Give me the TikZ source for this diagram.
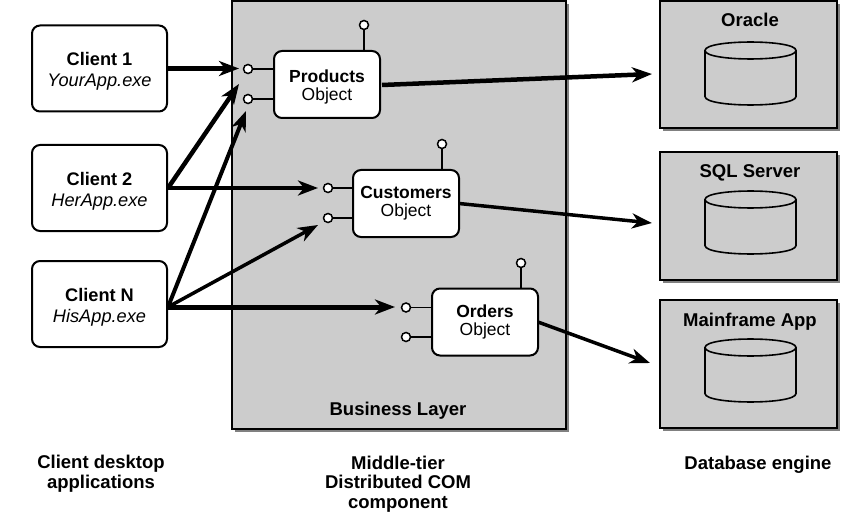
\documentclass[tikz,border=0pt]{standalone}
\usepackage{fontspec}
\setmainfont{Liberation Sans}
\usetikzlibrary{arrows.meta}
\tikzset{
  x=1pt,y=-1pt,
  lbl/.style={font=\fontsize{18.5}{19.5}\selectfont\bfseries,inner sep=0pt,outer sep=0pt,anchor=base,align=center},
  clientbox/.style={draw=black,line width=2pt,fill=white,rounded corners=8pt,minimum width=135pt,minimum height=86pt,align=center,inner sep=0pt,outer sep=0pt,font=\fontsize{18.2}{21}\selectfont},
  objbox/.style={draw=black,line width=2pt,fill=white,rounded corners=8pt,minimum width=106pt,minimum height=67pt,align=center,inner sep=0pt,outer sep=0pt,font=\fontsize{17.5}{17.7}\selectfont},
  panel/.style={draw=black,line width=2pt,fill=panelgray},
  shadowbox/.style={fill=shadowgray,draw=none},
  portdot/.style={circle,draw=black,line width=1.5pt,fill=white,minimum size=9pt,inner sep=0pt,outer sep=0pt},
  wire/.style={draw=black,line width=1.6pt},
  arrow/.style={draw=black,-{Stealth[length=20pt,width=15pt,inset=6pt]}},
  cyl/.style={draw=black,line width=1.6pt,fill=panelgray},
}
\definecolor{panelgray}{HTML}{CCCCCC}
\definecolor{shadowgray}{HTML}{808080}
\newcommand{\dbcyl}[2]{%
  \path[cyl] (705,#1) -- (705,#2) .. controls (705,#2+11.3) and (796,#2+11.3) .. (796,#2) -- (796,#1) .. controls (796,#1-11.3) and (705,#1-11.3) .. (705,#1) -- cycle;
  \draw[cyl,fill=none] (705,#1) .. controls (705,#1+11.3) and (796,#1+11.3) .. (796,#1);
}
\begin{document}
\begin{tikzpicture}
\useasboundingbox (0,0) rectangle (860,532);
\fill[white] (0,0) rectangle (860,532);
% panels
\fill[shadowbox] (235,4) rectangle (569,432);
\draw[panel] (232,1) rectangle (566,429);
\fill[shadowbox] (663,4) rectangle (840,131);
\draw[panel] (660,1) rectangle (837,128);
\fill[shadowbox] (663,155) rectangle (840,283);
\draw[panel] (660,152) rectangle (837,280);
\fill[shadowbox] (663,303) rectangle (840,431);
\draw[panel] (660,300) rectangle (837,428);
% cylinders
\dbcyl{50.5}{96.5}
\dbcyl{199.5}{245.5}
\dbcyl{347.5}{393.5}
% clients
\node[clientbox] (c1) at (99.5,68.5) {\rule{0pt}{19.7pt}\textbf{Client 1}\\\textit{YourApp.exe}};
\node[clientbox] (c2) at (99.5,188) {\rule{0pt}{19.7pt}\textbf{Client 2}\\\textit{HerApp.exe}};
\node[clientbox] (c3) at (99.5,304) {\rule{0pt}{19.7pt}\textbf{Client N}\\\textit{HisApp.exe}};
% objects
\node[objbox] (prod) at (327,84.5) {\rule{0pt}{17.7pt}\textbf{Products}\\Object};
\node[objbox] (cust) at (406,203.5) {\textbf{Customers}\\Object};
\node[objbox] (ord) at (485,322) {\textbf{Orders}\\Object};
% ports
\node[portdot] (p1) at (248,69) {};
\node[portdot] (p2) at (248,99) {};
\node[portdot] (p3) at (364,25) {};
\node[portdot] (q1) at (328,188) {};
\node[portdot] (q2) at (328,218) {};
\node[portdot] (q3) at (442,144) {};
\node[portdot] (r1) at (406,307.5) {};
\node[portdot] (r2) at (406,337) {};
\node[portdot] (r3) at (521,263) {};
\draw[wire] (p1) -- (prod.west |- p1);
\draw[wire] (p2) -- (prod.west |- p2);
\draw[wire] (p3) -- (prod.north -| p3);
\draw[wire] (q1) -- (cust.west |- q1);
\draw[wire] (q2) -- (cust.west |- q2);
\draw[wire] (q3) -- (cust.north -| q3);
\draw[wire] (r1) -- (ord.west |- r1);
\draw[wire] (r2) -- (ord.west |- r2);
\draw[wire] (r3) -- (ord.north -| r3);
% arrow ends
\coordinate (t1) at (239,68.5);
\coordinate (t2) at (239,84);
\coordinate (t3) at (246,111);
\coordinate (t4) at (318,188);
\coordinate (t5) at (318,225);
\coordinate (t6) at (395,307);
\coordinate (d1) at (652,74);
\coordinate (d2) at (652,223);
\coordinate (d3) at (650,363);
\coordinate (s1) at (168,188);
\coordinate (s3) at (168,307);
\coordinate (s4) at (382,85);
% arrows
\draw[arrow,line width=5pt] (c1.east) -- (t1);
\draw[arrow,line width=4.5pt] (s1) -- (t2);
\draw[arrow,line width=4.5pt] (s1) -- (t4);
\draw[arrow,line width=4pt] (s3) -- (t3);
\draw[arrow,line width=3.5pt] (s3) -- (t5);
\draw[arrow,line width=5pt] (s3) -- (t6);
\draw[arrow,line width=4.5pt] (s4) -- (d1);
\draw[arrow,line width=3.5pt] (cust.east) -- (d2);
\draw[arrow,line width=3.5pt] (ord.east) -- (d3);
% labels
\node[lbl] (oracle) at (750,27) {Oracle};
\node[lbl] (sql) at (750,178) {SQL Server};
\node[lbl] (main) at (750,326) {Mainframe App};
\node[lbl] (biz) at (398,415) {Business Layer};
\node[lbl] (capa) at (101,488) {Client desktop\\applications};
\node[lbl] (capb) at (398,508) {Middle-tier\\Distributed COM\\component};
\node[lbl] (capc) at (758,469) {Database engine};
\end{tikzpicture}
\end{document}
